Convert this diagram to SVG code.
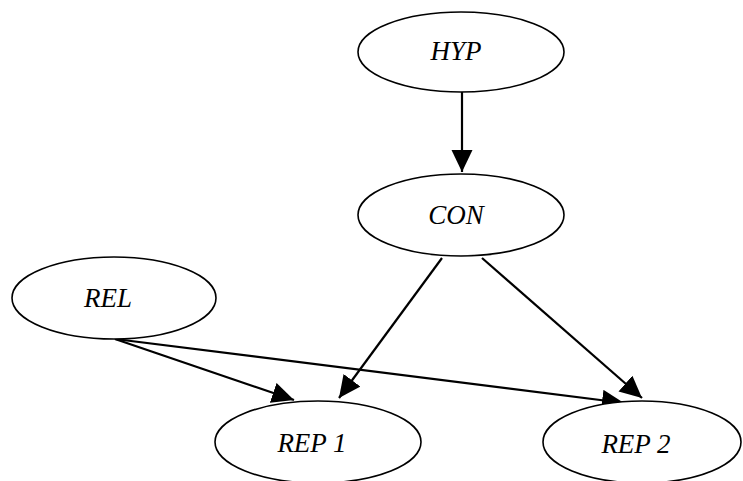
<svg xmlns="http://www.w3.org/2000/svg" width="743" height="481" viewBox="0 0 743 481">
<style>
.node ellipse{fill:#fff;stroke:#000;stroke-width:1.6}
.node text{font-family:"Liberation Serif","Times New Roman",serif;font-style:italic;font-size:27px;text-anchor:middle;fill:#000}
.edge{stroke:#000;stroke-width:2.2;fill:none}
</style>
<defs>
<marker id="ah" markerUnits="userSpaceOnUse" markerWidth="24" markerHeight="22" refX="22" refY="10.5" orient="auto" viewBox="0 0 24 22">
<path d="M0,0 L22,10.5 L0,21 Z" fill="#000"/>
</marker>
</defs>
<rect width="743" height="481" fill="#fff"/>
<g id="connectors">
<line class="edge" x1="462" y1="92" x2="462" y2="172" marker-end="url(#ah)"/>
<line class="edge" x1="442" y1="258" x2="339" y2="398" marker-end="url(#ah)"/>
<line class="edge" x1="482" y1="258" x2="642" y2="398" marker-end="url(#ah)"/>
<line class="edge" x1="115" y1="339" x2="294" y2="400" marker-end="url(#ah)"/>
<line class="edge" x1="115" y1="339" x2="624" y2="403" marker-end="url(#ah)"/>
</g>
<g id="HYP" class="node"><ellipse cx="461" cy="52" rx="103" ry="40"/><text x="456" y="60">HYP</text></g>
<g id="CON" class="node"><ellipse cx="461" cy="215" rx="103" ry="41"/><text x="456" y="224">CON</text></g>
<g id="REL" class="node"><ellipse cx="114" cy="298" rx="102" ry="41"/><text x="108" y="307">REL</text></g>
<g id="REP1" class="node"><ellipse cx="318" cy="442" rx="103" ry="41"/><text x="312" y="452">REP 1</text></g>
<g id="REP2" class="node"><ellipse cx="642" cy="442" rx="99" ry="41"/><text x="636" y="453">REP 2</text></g>
</svg>
